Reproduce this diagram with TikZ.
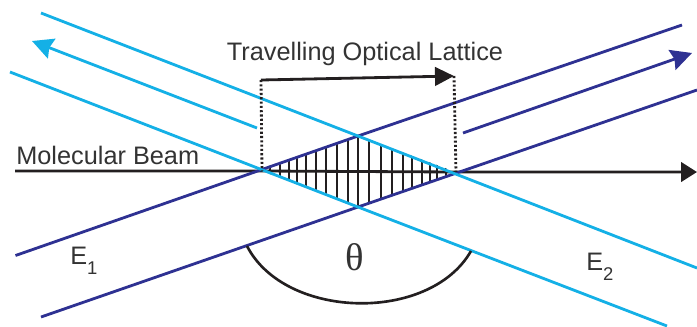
\documentclass[tikz,border=0pt]{standalone}
\usepackage{fontspec}
\setmainfont{Liberation Sans}
\newfontfamily\thetafont{Liberation Serif}
\usetikzlibrary{arrows.meta,positioning}
\definecolor{pcyan}{HTML}{14B0E6}
\definecolor{pnavy}{HTML}{2E3192}
\definecolor{pblack}{HTML}{231F20}
\definecolor{ptext}{HTML}{333333}
\newcommand{\lowsub}[1]{\raisebox{-0.75ex}{\fontsize{10.5}{12}\selectfont #1}}
\tikzset{
  % laser beams
  cyanbeam/.style = {pcyan, line width=1.6pt},
  navybeam/.style = {pnavy, line width=1.6pt},
  cyanarr/.style  = {cyanbeam, -{Stealth[length=4.2mm, width=4.2mm, inset=0.5mm]}},
  navyarr/.style  = {navybeam, -{Stealth[length=4.2mm, width=4.2mm, inset=0.5mm]}},
  beamarr/.style  = {pblack, line width=1.6pt, -{Triangle[length=3.2mm, width=3.9mm]}},
  dots/.style     = {pblack, line width=1.6pt, dash pattern=on 1.2pt off 1.25pt},
  fringe/.style   = {pblack, line width=1.4pt},
  lbl/.style      = {font=\fontsize{14.4}{16}\selectfont, text=ptext, inner sep=0pt},
}
\begin{document}
\begin{tikzpicture}[x=0.02cm,y=-0.02cm]
\useasboundingbox (0,0) rectangle (697,326);
% --- corners of the overlap ---------------------------------------------
\coordinate (west) at (262,171);
\coordinate (north) at (358,136);
\coordinate (east) at (456,172);
\coordinate (south) at (358,207);
% --- standing wave fringes ----------------------------------------------
\begin{scope}
  \clip (west) -- (north) -- (east) -- (south) -- cycle;
  \foreach \x in {270,280,289,297,306,316,326,337,348,358,369,381,392,403,412,422,430,437,446}
    {\draw[fringe] (\x,130) -- (\x,212);}
\end{scope}
% --- molecular beam -----------------------------------------------------
\draw[beamarr] (15,171) -- (west) -- (east) -- (697,172);
% --- E1 beams -----------------------------------------------------------
\draw[navybeam] (15.5,255.5) -- (north) -- (682,25);
\draw[navybeam] (41,317) -- (south) -- (697,90);
\draw[navyarr] (463,133) -- (692,53);
% --- E2 beams -----------------------------------------------------------
\draw[cyanbeam] (41,13) -- (north) -- (697,268);
\draw[cyanbeam] (10,72) -- (south) -- (667,326);
\draw[cyanarr] (257,128) -- (32,41);
% --- lattice motion -----------------------------------------------------
\coordinate (latl) at (261,80);
\coordinate (latr) at (454,76);
\draw[dots] (latl) -- (west);
\draw[dots] (latr) -- (east);
\draw[pblack, line width=1.6pt, -{Triangle[length=3.8mm, width=3.7mm]}] (latl) -- (latr);
% --- angle --------------------------------------------------------------
\coordinate (angl) at (247,246);
\coordinate (angr) at (471,251);
\draw[pblack, line width=1.5pt] (angl) .. controls (285,320) and (430,323) .. (angr);
% --- labels -------------------------------------------------------------
\node[lbl] (lattice) at (365,54) {Travelling Optical Lattice};
\node[lbl, anchor=west] (mol) at (16,155) {Molecular Beam};
\node[lbl, anchor=west] (eone) at (70,261) {E\lowsub{1}};
\node[lbl, anchor=west] (etwo) at (586,267) {E\lowsub{2}};
\node[lbl, font=\thetafont\fontsize{22}{24}\selectfont] (angle) at (355,257) {θ};
\end{tikzpicture}
\end{document}
